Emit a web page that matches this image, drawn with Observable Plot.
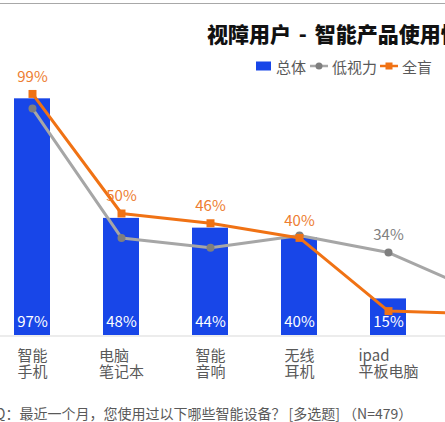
<!DOCTYPE html>
<html><head><meta charset="utf-8">
<script src="https://cdn.jsdelivr.net/npm/d3@7"></script>
<script src="https://cdn.jsdelivr.net/npm/@observablehq/plot@0.6"></script>
<style>
body{margin:0;background:#fff;font-family:"Noto Sans CJK SC","Noto Sans",sans-serif;}
#wrap{position:relative;width:445px;height:422px;overflow:hidden;background:#fff;}
#topline{position:absolute;left:0;top:3px;width:445px;height:0;border-top:1.5px solid #a8a8a8;}
#title{position:absolute;left:207px;top:18px;font-size:21px;font-weight:900;word-spacing:3px;white-space:nowrap;color:#111;line-height:30px;}
#legend{position:absolute;left:250px;top:55px;}
#chart{position:absolute;left:0;top:80px;width:540px;}
#chart svg{max-width:none !important;}
#foot{position:absolute;left:-5px;top:403px;font-size:14px;line-height:20px;color:#595959;white-space:nowrap;}
</style>
</head><body>
<div id="wrap">
  <div id="topline"></div>
  <div id="title">视障用户 - 智能产品使用情况</div>
  <svg id="legend" width="195" height="22" font-family="Noto Sans CJK SC, Noto Sans, sans-serif" font-size="15">
    <rect x="6" y="6.5" width="15" height="9" fill="#1846e8"></rect>
    <text x="26" y="11" dominant-baseline="central" fill="#595959">总体</text>
    <line x1="60" x2="78" y1="11" y2="11" stroke="#a6a6a6" stroke-width="2.5"></line>
    <circle cx="69" cy="11" r="3.5" fill="#7f7f7f"></circle>
    <text x="82" y="11" dominant-baseline="central" fill="#595959">低视力</text>
    <line x1="130" x2="148" y1="11" y2="11" stroke="#f07214" stroke-width="2.5"></line>
    <rect x="135.5" y="7.5" width="7" height="7" fill="#f07214"></rect>
    <text x="152" y="11" dominant-baseline="central" fill="#595959">全盲</text>
  </svg>
  <div id="chart"></div>
  <div id="foot">Q：最近一个月，您使用过以下哪些智能设备？ [多选题] （N=479）</div>
</div>
<script>
// the sixth category lies beyond the right edge of the picture; only its lines reach in
const categories = ["智能手机", "电脑笔记本", "智能音响", "无线耳机", "ipad平板电脑", "智能手表"];
const tickLabels = ["智能\n手机", "电脑\n笔记本", "智能\n音响", "无线\n耳机", "ipad\n平板电脑", "智能\n手表"];
const totalValues = [97, 48, 44, 40, 15, 13];
const lowVisionValues = [93, 40, 36, 41, 34, 18];
const blindValues = [99, 50, 46, 40, 10, 9];
const blindLabelShown = [true, true, true, true, false, false];
const lowLabelShown = [false, false, false, false, true, false];
const visibleCount = 5;

const rows = categories.map((c, i) => ({
  cat: c, total: totalValues[i], low: lowVisionValues[i], blind: blindValues[i], tick: tickLabels[i], i
}));
const visibleRows = rows.filter(d => d.i < visibleCount);

const font = '"Noto Sans CJK SC","Noto Sans",sans-serif';
const ctx = document.createElement("canvas").getContext("2d");
ctx.font = `15px ${font}`;
const blockW = tickLabels.map(t => Math.max(...t.split("\n").map(s => ctx.measureText(s).width)));

const step = 89.5;
const r0 = 31 - step / 2;

const axisMarks = visibleRows.map(d =>
  Plot.text([d], {x: "cat", y: () => 0, text: "tick", dy: 13, dx: -blockW[d.i] / 2, textAnchor: "start", lineAnchor: "top", lineHeight: 1.13, fill: "#595959", fontSize: 15})
);

const chart = Plot.plot({
  width: 540,
  height: 320,
  margin: 0,
  style: {fontFamily: font, background: "transparent", overflow: "visible", maxWidth: "none"},
  x: {type: "band", domain: categories, range: [r0, r0 + step * categories.length], paddingInner: 0.6, paddingOuter: 0.3, axis: null},
  y: {domain: [0, 100], range: [255, 11], axis: null},
  marks: [
    Plot.ruleY([0], {stroke: "#d9d9d9", strokeWidth: 1, dy: 0.5}),
    Plot.barY(rows, {x: "cat", y: "total", fill: "#1846e8"}),
    Plot.text(visibleRows, {x: "cat", y: () => 0, dy: -13, text: d => d.total + "%", fill: "white", fontSize: 15}),
    Plot.line(rows, {x: "cat", y: "low", stroke: "#a6a6a6", strokeWidth: 3}),
    Plot.dot(rows, {x: "cat", y: "low", r: 4, fill: "#7f7f7f"}),
    Plot.line(rows, {x: "cat", y: "blind", stroke: "#f07214", strokeWidth: 3}),
    Plot.dot(rows, {x: "cat", y: "blind", symbol: "square", r: 4.5, fill: "#f07214"}),
    Plot.text(rows.filter(d => blindLabelShown[d.i]), {x: "cat", y: "blind", dy: -17, text: d => d.blind + "%", fill: "#ed7d31", fontSize: 15}),
    Plot.text(rows.filter(d => lowLabelShown[d.i]), {x: "cat", y: "low", dy: -17, text: d => d.low + "%", fill: "#7f7f7f", fontSize: 15}),
    ...axisMarks
  ]
});
document.getElementById("chart").appendChild(chart);
</script>
</body></html>
